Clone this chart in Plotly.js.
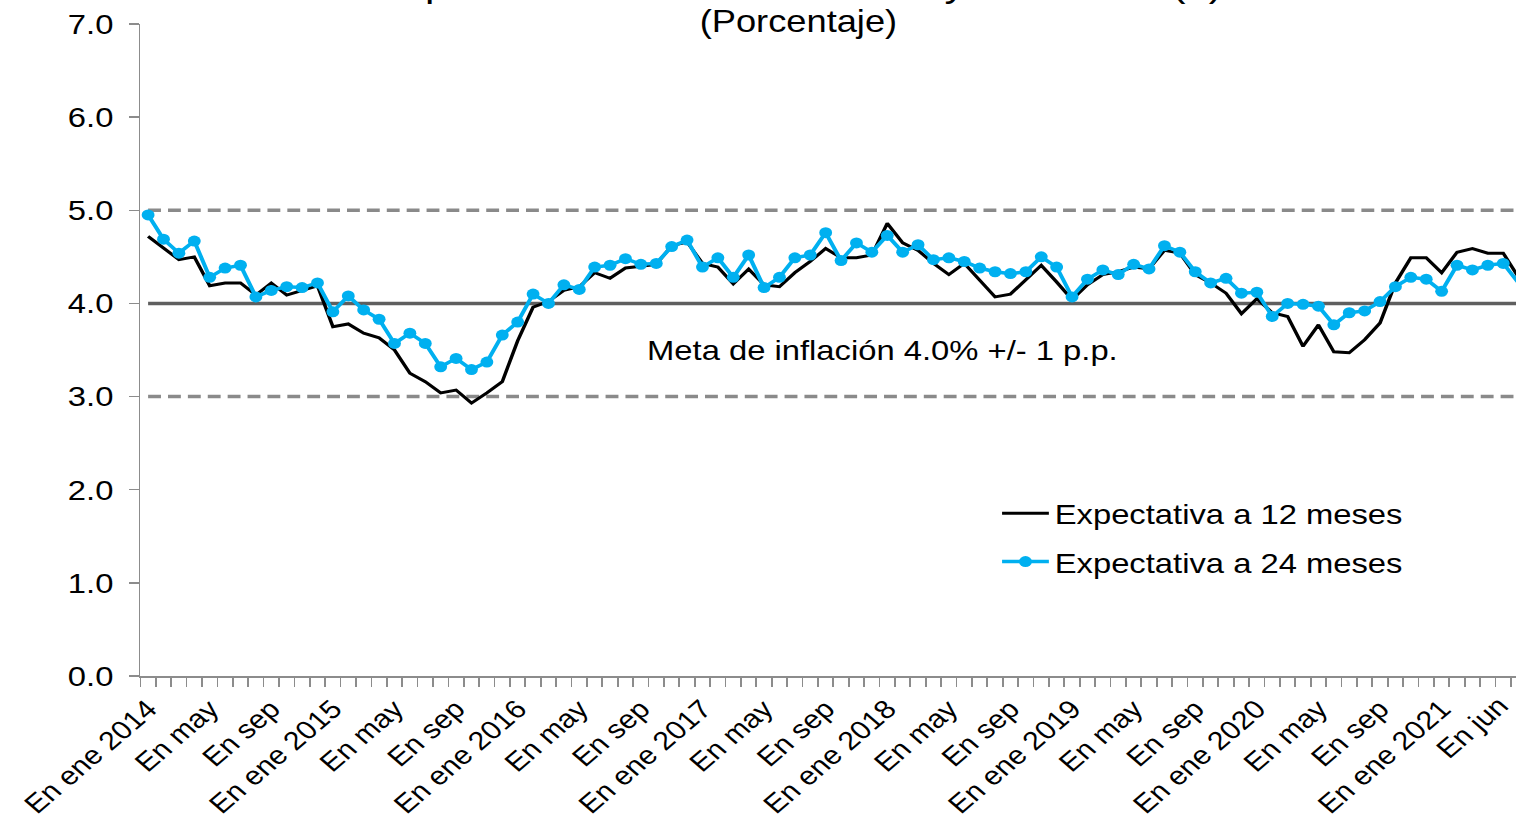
<!DOCTYPE html>
<html>
<head>
<meta charset="utf-8">
<script src="https://cdn.plot.ly/plotly-3.0.1.min.js"></script>
<style>
html,body{margin:0;padding:0;overflow:hidden;background:#fff;width:1516px;height:822px;}
#chart{position:absolute;left:0;top:-60px;width:1296px;height:882px;transform:scaleX(1.17);transform-origin:0 0;}
</style>
</head>
<body>
<div id="chart"></div>
<script>
// Monthly observations, Jan 2014 .. Jun 2021 (90 months)
const exp12 = [4.72,4.59,4.47,4.50,4.19,4.22,4.22,4.09,4.22,4.09,4.14,4.19,
  3.75,3.78,3.68,3.63,3.50,3.25,3.16,3.04,3.07,2.93,3.04,3.16,
  3.60,3.96,4.02,4.14,4.18,4.33,4.27,4.38,4.40,4.42,4.62,4.66,
  4.43,4.39,4.21,4.37,4.20,4.18,4.33,4.45,4.59,4.49,4.49,4.52,
  4.86,4.65,4.57,4.43,4.31,4.43,4.25,4.07,4.10,4.25,4.41,4.23,
  4.04,4.20,4.31,4.34,4.39,4.37,4.57,4.54,4.31,4.22,4.11,3.89,
  4.05,3.90,3.86,3.54,3.77,3.48,3.47,3.61,3.79,4.22,4.49,4.49,
  4.33,4.55,4.59,4.54,4.54,4.28];
const exp24 = [4.95,4.69,4.54,4.67,4.28,4.38,4.41,4.07,4.14,4.18,4.17,4.22,
  3.91,4.08,3.93,3.83,3.57,3.68,3.57,3.32,3.41,3.29,3.37,3.66,
  3.80,4.10,4.00,4.20,4.15,4.39,4.41,4.48,4.42,4.43,4.61,4.68,
  4.39,4.49,4.28,4.52,4.17,4.28,4.49,4.52,4.76,4.46,4.65,4.55,
  4.73,4.55,4.63,4.47,4.49,4.45,4.38,4.34,4.32,4.34,4.50,4.39,
  4.07,4.26,4.36,4.31,4.42,4.37,4.62,4.55,4.34,4.22,4.27,4.11,
  4.12,3.86,4.00,3.99,3.97,3.77,3.90,3.92,4.02,4.18,4.28,4.26,
  4.13,4.41,4.36,4.41,4.43,4.22];
const metaValue = 4.0;
const lowerBand = 3.0;
const upperBand = 5.0;
const tickLabels = ["En ene 2014","En may","En sep","En ene 2015","En may","En sep",
  "En ene 2016","En may","En sep","En ene 2017","En may","En sep",
  "En ene 2018","En may","En sep","En ene 2019","En may","En sep",
  "En ene 2020","En may","En sep","En ene 2021"];
const lastTickLabel = "En jun";
const seriesNames = ["Expectativa a 12 meses","Expectativa a 24 meses"];
const titleText = "Expectativas de inflación a 12 y 24 meses (1)";
const subtitleText = "(Porcentaje)";
const metaText = "Meta de inflación 4.0% +/- 1 p.p.";

const idx = exp12.map((_, i) => i);
const last = idx.length - 1;
const tickVals = tickLabels.map((_, i) => i * 4);

const FONT = "Liberation Sans, Arial, sans-serif";
const AX = "#8c8c8c";

const traces = [
  {x:[0,last], y:[upperBand,upperBand], mode:"lines", line:{color:"#8a8a8a", width:3.5, dash:"11px,6px"}, showlegend:false, hoverinfo:"skip"},
  {x:[0,last], y:[lowerBand,lowerBand], mode:"lines", line:{color:"#8a8a8a", width:3.5, dash:"11px,6px"}, showlegend:false, hoverinfo:"skip"},
  {x:[0,last], y:[metaValue,metaValue], mode:"lines", line:{color:"#5f5f5f", width:3.5}, showlegend:false, hoverinfo:"skip"},
  {x:idx, y:exp12, name:seriesNames[0], mode:"lines", line:{color:"#000000", width:3}, legendgroup:"a"},
  {x:idx, y:exp24, name:seriesNames[1], mode:"lines+markers", line:{color:"#00B0F0", width:3.5},
   marker:{color:"#00B0F0", size:11, symbol:"circle"}, legendgroup:"b", cliponaxis:false}
];

const layout = {
  width:1296, height:882,
  margin:{l:120, r:0, t:84, b:146},
  paper_bgcolor:"#ffffff", plot_bgcolor:"#ffffff",
  font:{family:FONT, size:28, color:"#000"},
  showlegend:true,
  legend:{x:0.622, y:0.2876, xanchor:"left", yanchor:"top", bgcolor:"rgba(0,0,0,0)",
          font:{family:FONT, size:28, color:"#000"}, tracegroupgap:9, traceorder:"grouped", itemwidth:40},
  xaxis:{range:[-0.5, 88.85], showgrid:false, zeroline:false, showline:true, linecolor:AX, linewidth:1.5,
         tickmode:"array", tickvals:tickVals, ticktext:tickLabels, tickangle:-45,
         ticks:"outside", ticklen:6, tickcolor:"rgba(0,0,0,0)",
         tickfont:{family:FONT, size:26, color:"#000"},
         minor:{tickmode:"linear", tick0:-0.5, dtick:1, ticks:"outside", ticklen:9, tickcolor:AX, tickwidth:1.5, showgrid:false}},
  yaxis:{range:[0,7], dtick:1, tick0:0, tickformat:".1f", showgrid:false, zeroline:false, showline:true,
         linecolor:AX, linewidth:1.5, ticks:"outside", ticklen:8, tickcolor:AX, tickwidth:1.5,
         ticklabelstandoff:8, tickfont:{family:FONT, size:28, color:"#000"}},
  annotations:[
    {text:titleText, xref:"paper", yref:"paper", x:0.4787, y:1.0613, xanchor:"center", yanchor:"middle",
     showarrow:false, font:{family:FONT, size:36, color:"#000"}},
    {text:subtitleText, xref:"paper", yref:"paper", x:0.4787, y:1.0046, xanchor:"center", yanchor:"middle",
     showarrow:false, font:{family:FONT, size:31, color:"#000"}},
    {text:metaText, xref:"paper", yref:"y", x:0.5394, y:3.5, xanchor:"center", yanchor:"middle",
     showarrow:false, font:{family:FONT, size:28, color:"#000"}},
    // last category label (Jun 2021), pulled just inside the cropped right edge as in the source
    {text:lastTickLabel, xref:"paper", yref:"paper", x:0.968, y:-0.078, xanchor:"center", yanchor:"middle",
     textangle:-45, showarrow:false, font:{family:FONT, size:26, color:"#000"}}
  ]
};

Plotly.newPlot("chart", traces, layout, {displayModeBar:false, staticPlot:true});
</script>
</body>
</html>
